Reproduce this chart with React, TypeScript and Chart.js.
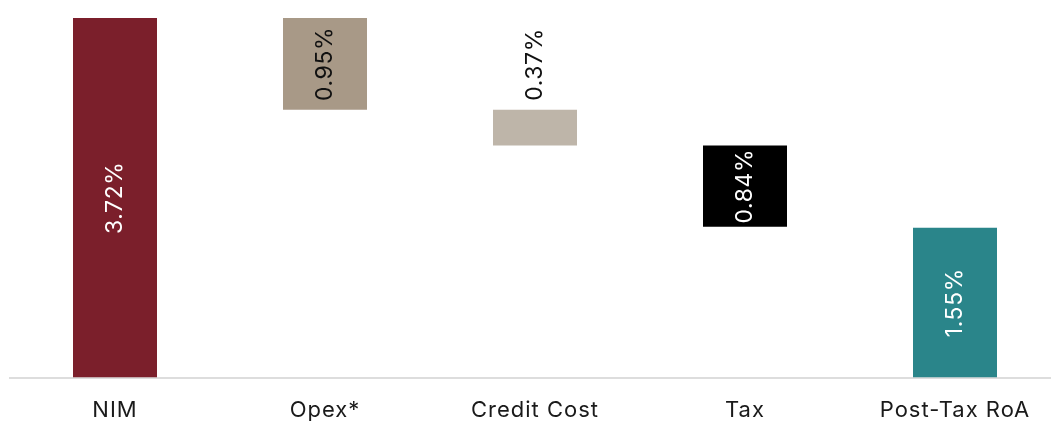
import React, { useEffect, useRef } from "react";
import { Chart, registerables } from "chart.js";

Chart.register(...registerables);

const categories = ["NIM", "Opex*", "Credit Cost", "Tax", "Post-Tax RoA"];
const values = [3.72, 0.95, 0.37, 0.84, 1.55];
const kinds = ["total", "decrease", "decrease", "decrease", "total"];
const barColors = ["#7B1F2B", "#A89987", "#BEB5A9", "#000000", "#2A858A"];
const labelColors = ["#FFFFFF", "#111111", "#111111", "#FFFFFF", "#FFFFFF"];
const labelInside = [true, true, false, true, true];

const FONT = "Inter, 'Noto Sans', sans-serif";

function buildRanges(): [number, number][] {
  const out: [number, number][] = [];
  let running = 0;
  values.forEach((v, i) => {
    if (kinds[i] === "total") {
      out.push([0, v]);
      running = v;
    } else {
      const top = running;
      running = +(running - v).toFixed(4);
      out.push([running, top]);
    }
  });
  return out;
}

const spacing = {
  id: "spacing",
  beforeLayout(chart: any) {
    chart.ctx.letterSpacing = "1px";
  },
  beforeDraw(chart: any) {
    chart.ctx.letterSpacing = "1px";
  },
};

const valueLabels = {
  id: "valueLabels",
  afterDatasetsDraw(chart: any) {
    const { ctx } = chart;
    const meta = chart.getDatasetMeta(0);
    ctx.save();
    ctx.font = `400 23px ${FONT}`;
    ctx.letterSpacing = "0.6px";
    meta.data.forEach((bar: any, i: number) => {
      const text = values[i].toFixed(2) + "%";
      const { x, y, base } = bar.getProps(["x", "y", "base"], true);
      const top = Math.min(y, base);
      const bottom = Math.max(y, base);
      ctx.save();
      ctx.fillStyle = labelColors[i];
      ctx.textBaseline = "middle";
      if (labelInside[i]) {
        ctx.translate(x, (top + bottom) / 2);
        ctx.rotate(-Math.PI / 2);
        ctx.textAlign = "center";
        ctx.fillText(text, 0, 0);
      } else {
        ctx.translate(x, top - 9);
        ctx.rotate(-Math.PI / 2);
        ctx.textAlign = "left";
        ctx.fillText(text, 0, 0);
      }
      ctx.restore();
    });
    ctx.restore();
  },
};

export default function App() {
  const ref = useRef<HTMLCanvasElement | null>(null);
  useEffect(() => {
    if (!ref.current) return;
    const chart = new Chart(ref.current, {
      type: "bar",
      data: {
        labels: categories,
        datasets: [
          {
            data: buildRanges() as any,
            backgroundColor: barColors,
            borderWidth: 0,
            barPercentage: 0.4,
            categoryPercentage: 1,
          },
        ],
      },
      options: {
        responsive: false,
        animation: false,
        layout: { padding: { left: 10, right: 10, top: 18, bottom: 0 } },
        plugins: { legend: { display: false }, tooltip: { enabled: false } },
        scales: {
          x: {
            grid: { display: false, drawTicks: false },
            border: { display: true, color: "#DDDDDD", width: 2 },
            ticks: {
              color: "#1A1A1A",
              padding: 20,
              font: { family: FONT, size: 22 },
            },
          },
          y: {
            display: false,
            min: 0,
            max: 3.72,
          },
        },
      },
      plugins: [spacing, valueLabels],
    });
    return () => chart.destroy();
  }, []);
  return (
    <div style={{ position: "fixed", left: 0, top: 0, width: 1051, height: 421, overflow: "hidden", background: "#fff" }}>
      <canvas ref={ref} width={1070} height={444} style={{ display: "block", width: 1070, height: 444 }} />
    </div>
  );
}
